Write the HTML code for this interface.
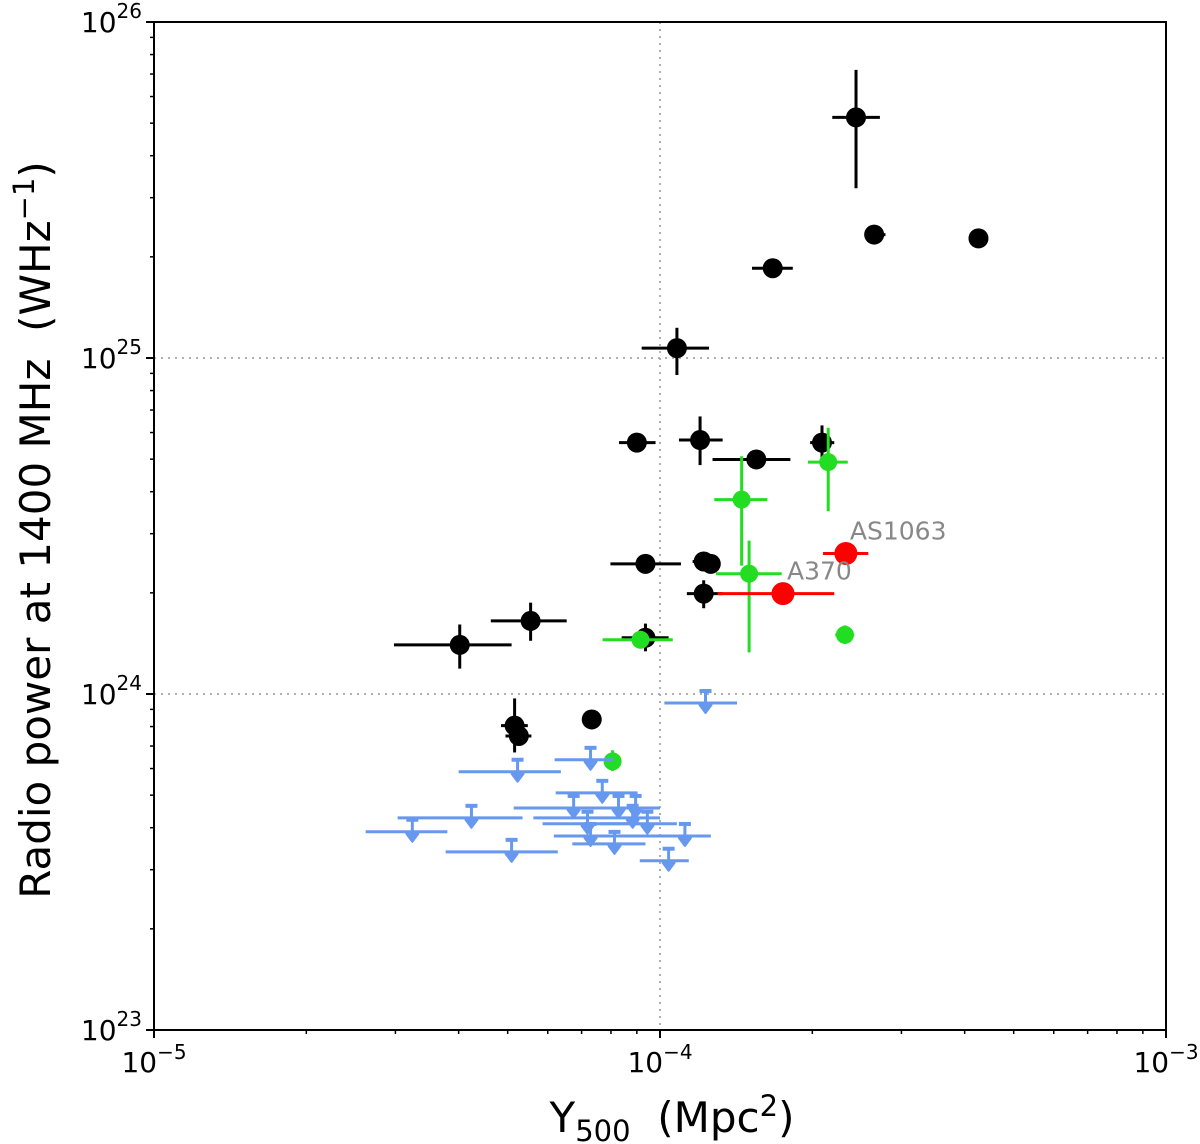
<!DOCTYPE html>
<html><head><meta charset="utf-8"><style>
html,body{margin:0;padding:0;background:#fff;}
svg{display:block;font-family:"DejaVu Sans","Liberation Sans",sans-serif;}
</style></head><body>
<svg id="chart" width="1200" height="1144" viewBox="0 0 1200 1144" xmlns="http://www.w3.org/2000/svg">
<g id="grid"></g>
<g id="marks"></g>
<rect x="154" y="22" width="1012" height="1008" fill="none" stroke="#000" stroke-width="2"/>
<g id="axes"></g>
<text x="672" y="1132" font-size="42" text-anchor="middle" xml:space="preserve">Y<tspan font-size="29" dy="9">500</tspan><tspan dy="-9">  (Mpc</tspan><tspan font-size="29" dy="-16">2</tspan><tspan dy="16">)</tspan></text>
<text transform="translate(50,530) rotate(-90)" font-size="42" text-anchor="middle" xml:space="preserve">Radio power at 1400 MHz  (WHz<tspan font-size="29" dy="-16">−1</tspan><tspan dy="16">)</tspan></text>
</svg>
<script>
const xTickExps=[-5,-4,-3];
const yTickExps=[23,24,25,26];
// black detections: x, xlo, xhi, y, ylo, yhi
const blackX=[2.44e-4,2.65e-4,4.26e-4,1.67e-4,1.08e-4,9.0e-5,1.20e-4,1.55e-4,2.09e-4,9.36e-5,1.22e-4,1.26e-4,1.22e-4,5.55e-5,4.02e-5,9.36e-5,5.16e-5,5.26e-5,7.33e-5];
const blackXlo=[2.19e-4,2.54e-4,4.26e-4,1.52e-4,9.2e-5,8.3e-5,1.09e-4,1.27e-4,1.98e-4,7.98e-5,1.16e-4,1.20e-4,1.13e-4,4.63e-5,2.98e-5,8.4e-5,4.85e-5,4.95e-5,7.33e-5];
const blackXhi=[2.72e-4,2.79e-4,4.26e-4,1.83e-4,1.25e-4,9.8e-5,1.33e-4,1.81e-4,2.21e-4,1.10e-4,1.28e-4,1.31e-4,1.33e-4,6.54e-5,5.09e-5,1.04e-4,5.48e-5,5.57e-5,7.33e-5];
const blackY=[5.2e25,2.33e25,2.27e25,1.85e25,1.07e25,5.6e24,5.7e24,4.99e24,5.6e24,2.44e24,2.48e24,2.44e24,1.99e24,1.65e24,1.40e24,1.47e24,8.05e23,7.5e23,8.4e23];
const blackYlo=[3.2e25,2.33e25,2.27e25,1.85e25,8.9e24,5.3e24,4.8e24,4.99e24,4.95e24,2.44e24,2.48e24,2.44e24,1.80e24,1.44e24,1.19e24,1.34e24,6.7e23,7.5e23,7.9e23];
const blackYhi=[7.2e25,2.33e25,2.27e25,1.85e25,1.23e25,5.9e24,6.7e24,4.99e24,6.3e24,2.44e24,2.48e24,2.44e24,2.18e24,1.87e24,1.61e24,1.62e24,9.7e23,7.5e23,8.9e23];
// green detections
const greenX=[2.15e-4,1.45e-4,1.50e-4,9.15e-5,2.32e-4,8.06e-5];
const greenXlo=[1.96e-4,1.28e-4,1.29e-4,7.7e-5,2.22e-4,8.06e-5];
const greenXhi=[2.35e-4,1.63e-4,1.74e-4,1.06e-4,2.42e-4,8.06e-5];
const greenY=[4.9e24,3.79e24,2.28e24,1.45e24,1.50e24,6.3e23];
const greenYlo=[3.5e24,2.41e24,1.33e24,1.37e24,1.41e24,5.9e23];
const greenYhi=[6.2e24,5.1e24,2.86e24,1.53e24,1.60e24,6.8e23];
// red labelled clusters
const redNames=["AS1063","A370"];
const redX=[2.33e-4,1.75e-4];
const redXlo=[2.10e-4,1.30e-4];
const redXhi=[2.58e-4,2.21e-4];
const redY=[2.62e24,1.99e24];
// blue upper limits
const blueX=[1.23e-4,7.29e-5,5.23e-5,7.69e-5,6.75e-5,8.28e-5,8.95e-5,8.83e-5,4.24e-5,7.19e-5,9.44e-5,3.24e-5,7.29e-5,1.12e-4,8.13e-5,5.09e-5,1.04e-4];
const blueXlo=[1.02e-4,6.19e-5,4.0e-5,6.22e-5,5.14e-5,6.97e-5,7.63e-5,5.62e-5,3.03e-5,5.86e-5,7.63e-5,2.62e-5,6.17e-5,9.44e-5,6.71e-5,3.77e-5,9.12e-5];
const blueXhi=[1.42e-4,8.09e-5,6.37e-5,9.03e-5,8.36e-5,9.89e-5,1.0e-4,1.0e-4,5.35e-5,9.15e-5,1.08e-4,3.80e-5,9.57e-5,1.26e-4,9.36e-5,6.28e-5,1.14e-4];
const blueY=[9.4e23,6.37e23,5.87e23,5.08e23,4.58e23,4.58e23,4.58e23,4.28e23,4.28e23,4.11e23,4.11e23,3.89e23,3.78e23,3.78e23,3.58e23,3.39e23,3.19e23];

const L=154,R=1166,T=22,B=1030;
function sx(v){return L+(Math.log10(v)+5)/2*(R-L);}
function sy(v){return B-(Math.log10(v)-23)/3*(B-T);}
const NS="http://www.w3.org/2000/svg";
function mk(tag,attrs,parent){const e=document.createElementNS(NS,tag);for(const k in attrs)e.setAttribute(k,attrs[k]);parent.appendChild(e);return e;}
const grid=document.getElementById('grid'),marks=document.getElementById('marks'),axes=document.getElementById('axes');

let g=mk('line',{x1:sx(1e-4),x2:sx(1e-4),y1:T,y2:B,stroke:'#b0b0b0','stroke-width':2,'stroke-dasharray':'2,5'},grid);


[1e24,1e25].forEach(v=>{const l=mk('line',{x1:L,x2:R,y1:sy(v),y2:sy(v),stroke:'#b0b0b0','stroke-width':2,'stroke-dasharray':'2,5'},grid);

});

xTickExps.forEach(e=>{const x=sx(Math.pow(10,e));
const t=mk('line',{x1:x,x2:x,y1:B,y2:B+8,stroke:'#000','stroke-width':2},axes);


const tx=mk('text',{x:x,y:B+42,'font-size':28,'text-anchor':'middle'},axes);


tx.innerHTML='10<tspan font-size="20" dy="-13">−'+(-e)+'</tspan>';
if(e<-3){for(let m=2;m<10;m++){const xm=sx(m*Math.pow(10,e));
const mt=mk('line',{x1:xm,x2:xm,y1:B,y2:B+4,stroke:'#000','stroke-width':1.5},axes);

}}});
yTickExps.forEach(e=>{const y=sy(Math.pow(10,e));
const t=mk('line',{x1:L-8,x2:L,y1:y,y2:y,stroke:'#000','stroke-width':2},axes);


const tx=mk('text',{x:L-12,y:y+10,'font-size':28,'text-anchor':'end'},axes);


tx.innerHTML='10<tspan font-size="20" dy="-14">'+e+'</tspan>';
if(e<26){for(let m=2;m<10;m++){const ym=sy(m*Math.pow(10,e));
const mt=mk('line',{x1:L-4,x2:L,y1:ym,y2:ym,stroke:'#000','stroke-width':1.5},axes);

}}});

function series(X,Xlo,Xhi,Y,Ylo,Yhi,col,r,name){
for(let i=0;i<X.length;i++){
const gg=mk('g',{},marks);


const cx=sx(X[i]),cy=sy(Y[i]);
mk('line',{x1:sx(Xlo[i]),x2:sx(Xhi[i]),y1:cy,y2:cy,stroke:col,'stroke-width':3},gg);
if(Ylo)mk('line',{x1:cx,x2:cx,y1:sy(Ylo[i]),y2:sy(Yhi[i]),stroke:col,'stroke-width':3},gg);
mk('circle',{cx:cx,cy:cy,r:r,fill:col},gg);}}
series(blackX,blackXlo,blackXhi,blackY,blackYlo,blackYhi,'#000',10,'black');
series(greenX,greenXlo,greenXhi,greenY,greenYlo,greenYhi,'#22dd22',9,'green');
series(redX,redXlo,redXhi,redY,null,null,'#ff0000',11.5,'red');
for(let i=0;i<redX.length;i++){const t=mk('text',{x:sx(redX[i])+4,y:sy(redY[i])-14,'font-size':25,fill:'#888'},marks);


t.textContent=redNames[i];}

for(let i=0;i<blueX.length;i++){
const gg=mk('g',{},marks);


const cx=sx(blueX[i]),cy=sy(blueY[i]),c='#6699ee';
mk('line',{x1:sx(blueXlo[i]),x2:sx(blueXhi[i]),y1:cy,y2:cy,stroke:c,'stroke-width':3},gg);
mk('line',{x1:cx,x2:cx,y1:cy-12,y2:cy+6,stroke:c,'stroke-width':3},gg);
mk('line',{x1:cx-6,x2:cx+6,y1:cy-12,y2:cy-12,stroke:c,'stroke-width':4},gg);
mk('path',{d:`M${cx-6},${cy+2} L${cx+6},${cy+2} L${cx},${cy+10} Z`,fill:c,stroke:c,'stroke-width':2,'stroke-linejoin':'round'},gg);}
</script>
</body></html>
